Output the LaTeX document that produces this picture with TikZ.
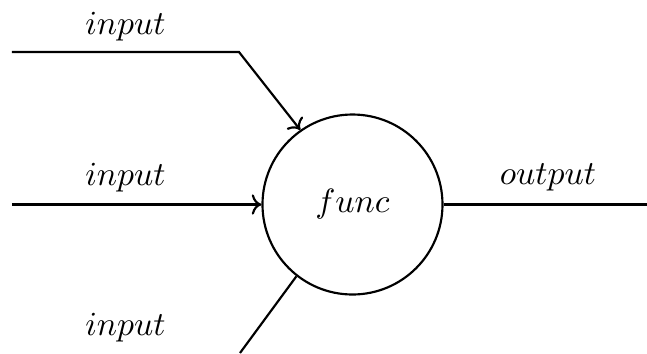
\documentclass[tikz,border=0pt]{standalone}
\usepackage{amsmath}
\usepackage{tikz}
\usetikzlibrary{positioning,arrows.meta,calc}

\begin{document}
\begin{tikzpicture}[
  x=0.325pt,y=0.325pt,
  font=\fontsize{10.5}{12}\selectfont,
  wire/.style={line width=0.7pt,black},
  unit/.style={circle,draw,line width=0.7pt,minimum size=58.5pt,inner sep=0pt},
  lab/.style={inner sep=0pt}
]
\useasboundingbox (0,0) rectangle (647,353);

% The function unit
\node[unit] (func) at (352.5,148.5) {$func$};

% Top input: horizontal run, then a slanted leg into the unit
\coordinate (in1) at (12,301);
\coordinate (bend1) at (239,301);
\draw[wire,->] (in1) -- (bend1) -- (func.125.5);
\node[lab] (in1lab) at (125.5,326) {$input$};

% Middle input
\coordinate (in2) at (12,148.5);
\draw[wire,->] (in2) -- (func.west);
\node[lab] (in2lab) at (125.5,175.5) {$input$};

% Bottom input, running off the lower edge
\coordinate (in3) at (240,0);
\draw[wire] (in3) -- (func.232);
\node[lab] (in3lab) at (125.5,25) {$input$};

% Output
\coordinate (out) at (647,148.5);
\draw[wire] (func.east) -- (out);
\node[lab] (outlab) at (548,175.5) {$output$};

\end{tikzpicture}
\end{document}
